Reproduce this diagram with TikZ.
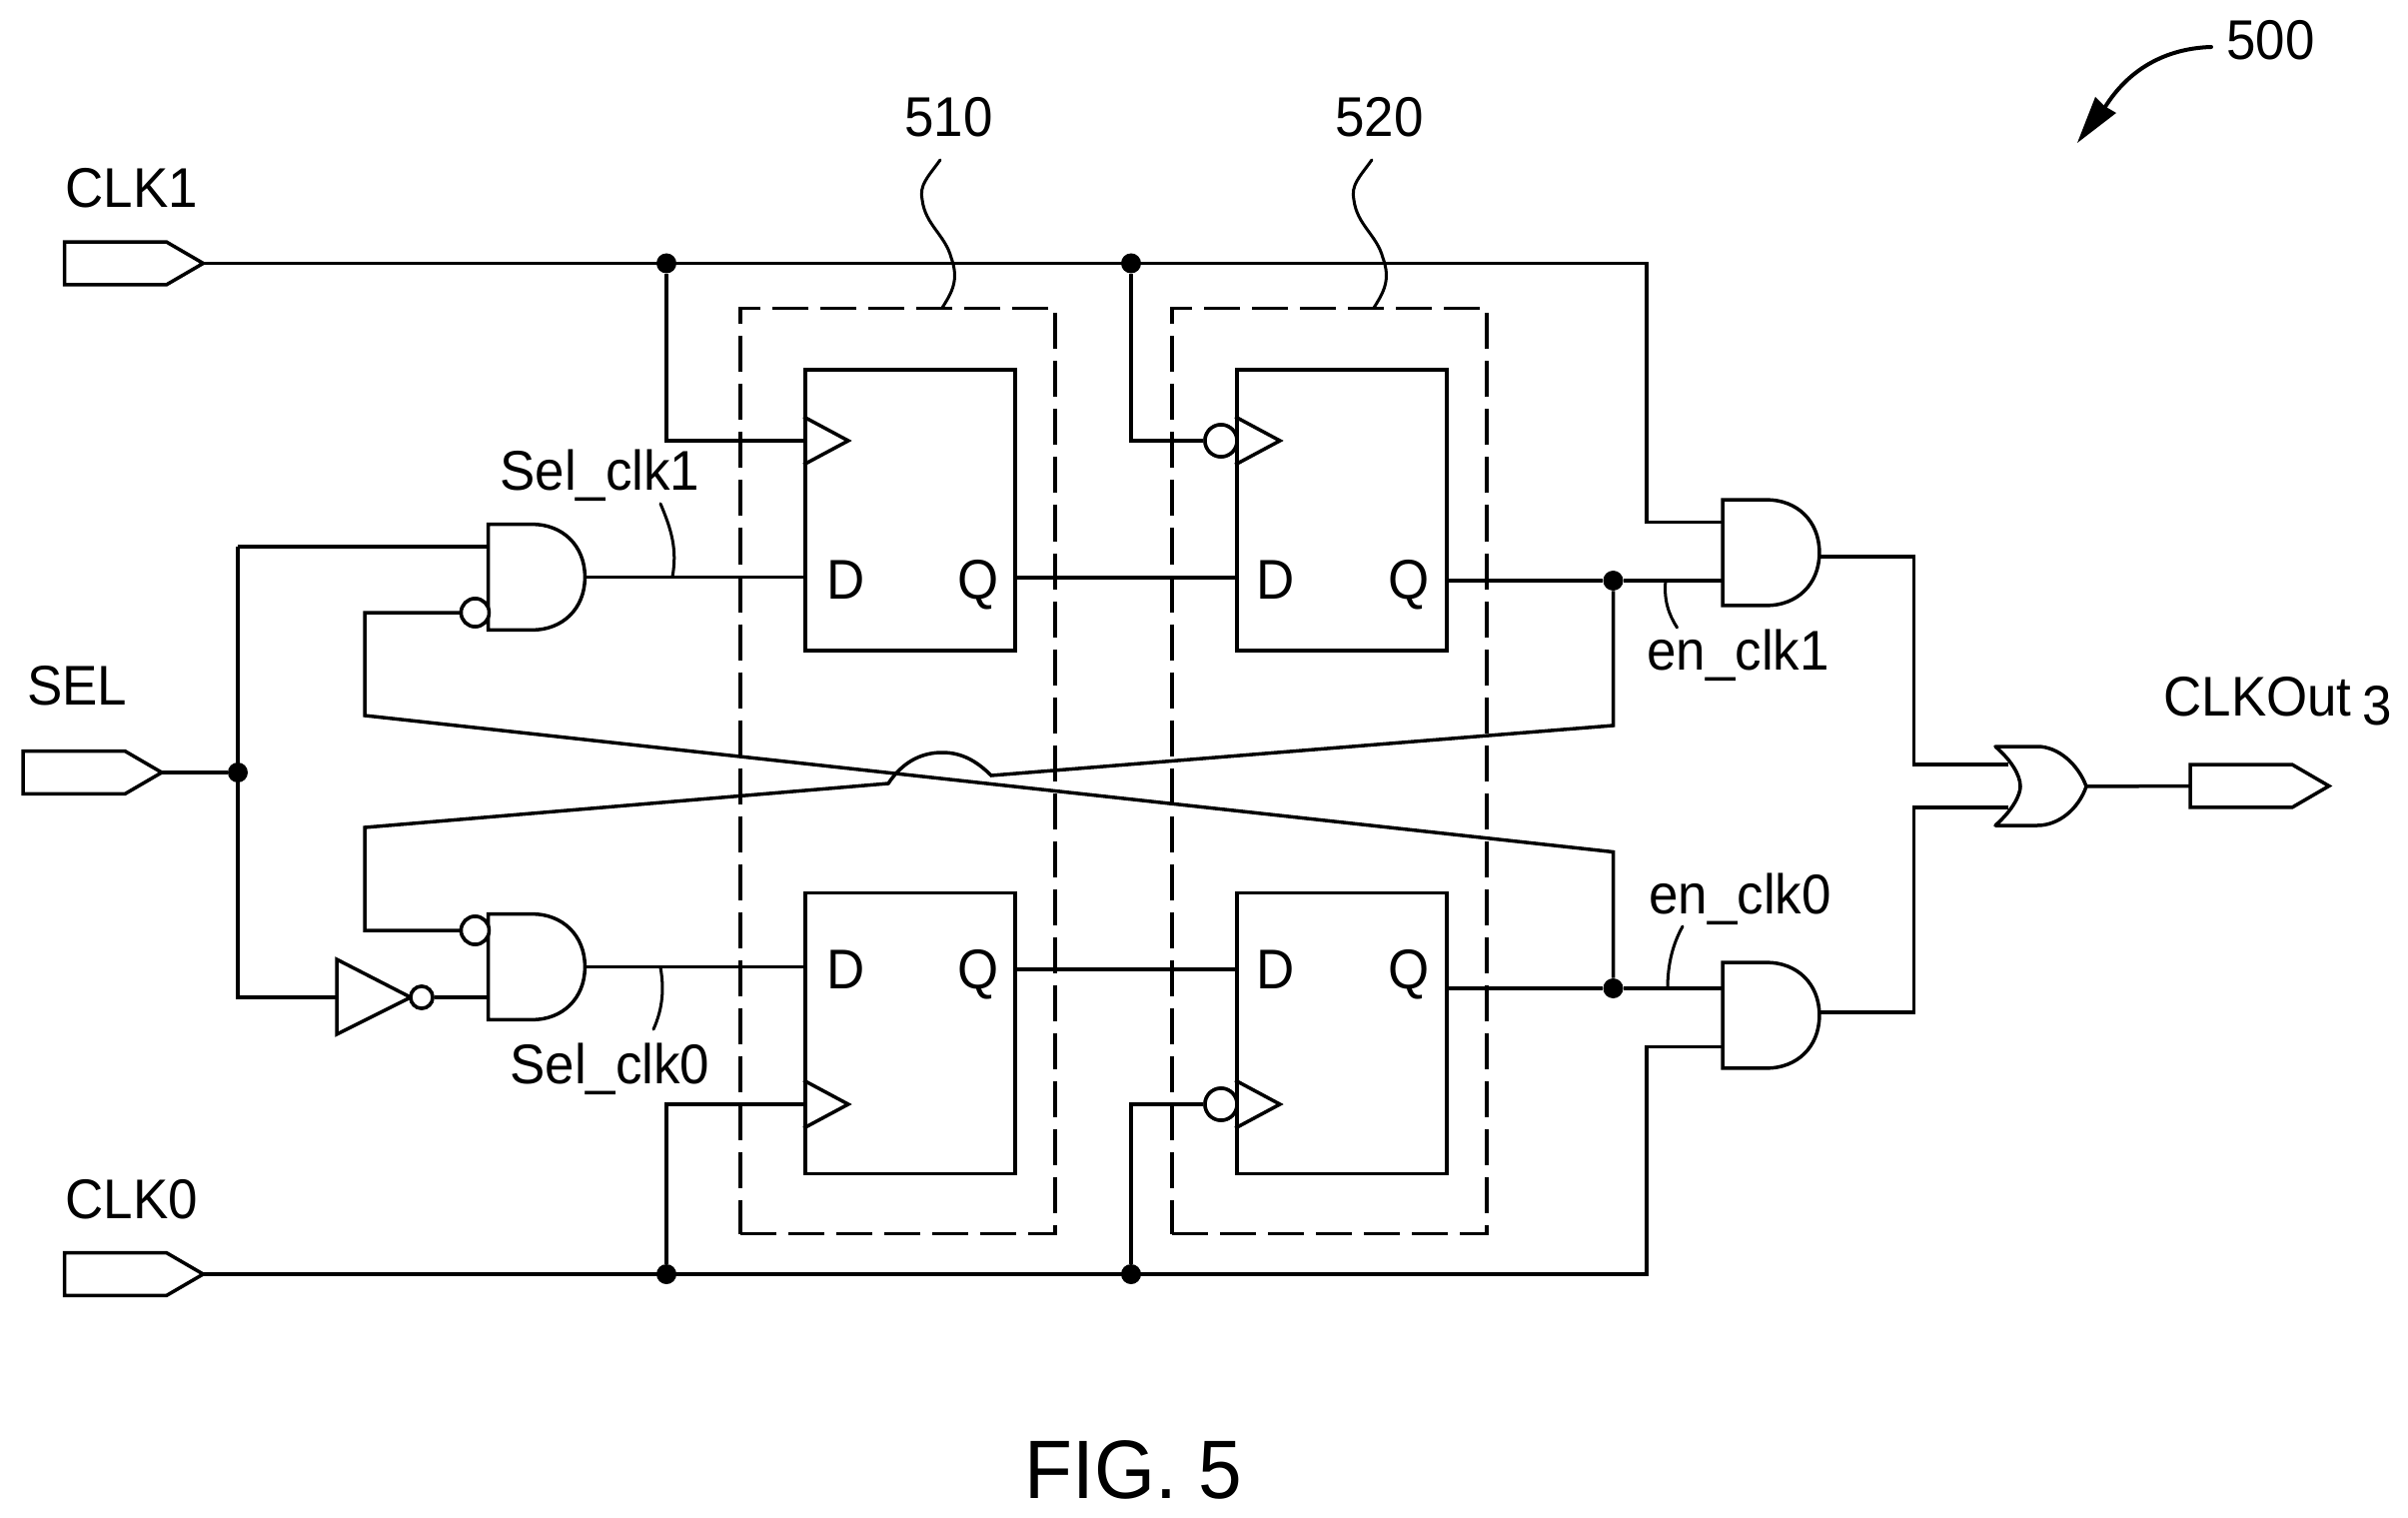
\documentclass[tikz,border=0pt]{standalone}
\usepackage{fontspec}
\setmainfont[FakeStretch=0.945]{Liberation Sans}
\usetikzlibrary{calc}
\tikzset{
  x=0.5pt,y=-0.5pt,
  wire/.style={line width=1.75pt,line cap=butt,line join=miter},
  lead/.style={line width=1.5pt,line cap=round},
  dot/.style={circle,fill=black,inner sep=0pt,minimum size=10pt},
  bub/.style={circle,draw=black,fill=white,line width=1.75pt,inner sep=0pt,minimum size=14pt},
  ff/.style={rectangle,draw=black,line width=1.75pt,inner sep=0pt,minimum width=105pt,minimum height=140.5pt},
  gbox/.style={rectangle,draw=black,line width=1.75pt,dash pattern=on 18pt off 6pt,inner sep=0pt,minimum width=157.5pt,minimum height=463pt},
  lbl/.style={anchor=base west,inner sep=0pt,font=\fontsize{28}{28}\selectfont},
  pin/.style={rectangle,inner sep=0pt,minimum width=69pt,minimum height=21pt},
  gate/.style={rectangle,inner sep=0pt,minimum width=48pt,minimum height=52.5pt},
}
% AND gate body drawn relative to its invisible node
\newcommand{\andbody}[1]{%
  \draw[wire,fill=white] (#1.north west) -- ++(44,0)
    .. controls +(30,0) and +(0,-32) .. (#1.east)
    .. controls +(0,32) and +(30,0) .. ($(#1.south west)+(44,0)$) -- (#1.south west) -- cycle;}
% pin body: pentagon pointing right
\newcommand{\pinbody}[1]{%
  \draw[wire,fill=white] (#1.north west) -- ++(102,0) -- (#1.east) -- ($(#1.south west)+(102,0)$) -- (#1.south west) -- cycle;}
\begin{document}
\begin{tikzpicture}
\useasboundingbox (0,0) rectangle (2410,1519);
% pins
\node[pin] (clk1) at (134,263.5) {};
\node[pin] (clk0) at (134,1275) {};
\node[pin] (sel) at (92.5,773) {};
\node[pin] (out) at (2261.5,786.5) {};
% flip-flops
\node[ff] (ffa) at (911,510.5) {};
\node[ff] (ffb) at (1343,510.5) {};
\node[ff] (ffc) at (911,1034) {};
\node[ff] (ffd) at (1343,1034) {};
% dashed groups
\node[gbox] (g510) at (898.5,771.5) {};
\node[gbox] (g520) at (1330.5,771.5) {};
% gates
\node[gate] (and1) at (537,577.5) {};
\node[gate] (and2) at (537,967.5) {};
\node[gate] (and3) at (1772.5,553) {};
\node[gate] (and4) at (1772.5,1016) {};
% junctions
\node[dot] (j1) at (667,263.5) {};
\node[dot] (j2) at (1132,263.5) {};
\node[dot] (j3) at (667,1275) {};
\node[dot] (j4) at (1132,1275) {};
\node[dot] (js) at (238,773) {};
\node[dot] (ja) at (1614.5,581) {};
\node[dot] (jb) at (1614.5,989) {};
% routing corners
\coordinate (ck1a) at (1132,441);
\coordinate (ck1b) at (667,441);
\coordinate (ck0a) at (667,1105);
\coordinate (ck0b) at (1132,1105);
\coordinate (fbl1) at (365,716);
\coordinate (fbl2) at (365,828);
\coordinate (xa) at (1614.5,852.5);
\coordinate (xb) at (1614.5,726);
\coordinate (bl) at (889,784);
\coordinate (br) at (992,776);
\coordinate (bt) at (943,753);
\coordinate (t1) at (1648,263.5);
\coordinate (t2) at (1648,1275);
\coordinate (s1) at (238,547);
\coordinate (s2) at (238,998);
\coordinate (orw) at (2022,787);
\coordinate (w1) at (1915.5,765);
\coordinate (w2) at (1915.5,808);
\coordinate (o3) at (1821,557);
\coordinate (o4) at (1821,1013);
% OR gate
\coordinate (ortl) at (1997,747);
\coordinate (orbl) at (1997,826);
\node[inner sep=0pt,minimum size=0pt] (orgate) at (2088,787) {};
% bubbles
\node[bub] (b1) at (475.5,613) {};
\node[bub] (b2) at (475.5,931) {};
\node[bub,minimum size=11pt] (b3) at (422,998) {};
\node[bub,minimum size=16pt] (b4) at (1222,441) {};
\node[bub,minimum size=16pt] (b5) at (1222,1105) {};
% inverter
\coordinate (invt) at (337,960);
\coordinate (invb) at (337,1035);
\coordinate (invm) at (337,998);
\coordinate (invo) at (411,998);
% ------- wires
\draw[wire] (clk1.east) -- (t1) -- (t1 |- 0,522.5) -- (and3.west |- 0,522.5);
\draw[wire] (clk0.east) -- (t2) -- (t2 |- 0,1047.5) -- (and4.west |- 0,1047.5);
\draw[wire] (j1) -- (ck1b) -- (ck1b -| ffa.west);
\draw[wire] (j2) -- (ck1a) -- (b4);
\draw[wire] (j3) -- (ck0a) -- (ck0a -| ffc.west);
\draw[wire] (j4) -- (ck0b) -- (b5);
\draw[wire] (sel.east) -- (js);
\draw[wire] (s1) -- (s2) -- (invm);
\draw[wire] (s1) -- (s1 -| and1.west);
\draw[wire] (and1.east) -- (and1.east -| ffa.west);
\draw[wire] (and2.east) -- (and2.east -| ffc.west);
\draw[wire] (ffa.east |- 0,578) -- (ffb.west |- 0,578);
\draw[wire] (ffc.east |- 0,970) -- (ffd.west |- 0,970);
\draw[wire] (ffb.east |- ja) -- (ja) -- (ja -| and3.west);
\draw[wire] (ffd.east |- jb) -- (jb) -- (jb -| and4.west);
\draw[wire] (b1) -- (fbl1 |- b1) -- (fbl1) -- (xa) -- (jb);
\draw[wire] (b2) -- (fbl2 |- b2) -- (fbl2) -- (bl)
   .. controls (905,760) and (925,753) .. (bt)
   .. controls (963,753) and (978,762) .. (br) -- (xb) -- (ja);
\draw[wire] (o3) -- (w1 |- o3) -- (w1) -- (2010,765);
\draw[wire] (o4) -- (w2 |- o4) -- (w2) -- (2010,808);
\draw[wire] (orgate) -- (out.west);
\draw[wire] (b3) -- (b3 -| and2.west);
% ------- gate bodies
\andbody{and1}\andbody{and2}\andbody{and3}\andbody{and4}
\pinbody{clk1}\pinbody{clk0}\pinbody{sel}\pinbody{out}
\draw[wire,fill=white,line join=round] (ortl) -- (2039,747) .. controls (2060,747) and (2080,765) .. (orgate.center)
  .. controls (2080,810) and (2060,826) .. (2039,826) -- (orbl)
  .. controls (2015,810) and (2022,795) .. (orw) .. controls (2022,775) and (2012,760) .. (ortl) -- cycle;
\draw[wire,fill=white] (invt) -- (invo) -- (invb) -- cycle;
% clock triangles
\draw[wire] (ffa.west |- 0,417) -- (849,441) -- (ffa.west |- 0,465);
\draw[wire] (ffb.west |- 0,417) -- (1281,441) -- (ffb.west |- 0,465);
\draw[wire] (ffc.west |- 0,1081) -- (849,1105) -- (ffc.west |- 0,1129);
\draw[wire] (ffd.west |- 0,1081) -- (1281,1105) -- (ffd.west |- 0,1129);
% redraw bubbles on top
\node[bub] at (b1) {};
\node[bub] at (b2) {};
\node[bub,minimum size=11pt] at (b3) {};
\node[bub,minimum size=16pt] at (b4) {};
\node[bub,minimum size=16pt] at (b5) {};
% ------- leaders
\coordinate (l520) at (1375,308);
\coordinate (l510) at (943,308);
\draw[lead] (1373,160) .. controls (1360,178) and (1352,185) .. (1355,200)
  .. controls (1358,225) and (1378,235) .. (1384,258) .. controls (1392,280) and (1385,292) .. (l520);
\draw[lead] (941,160) .. controls (928,178) and (920,185) .. (923,200)
  .. controls (926,225) and (946,235) .. (952,258) .. controls (960,280) and (953,292) .. (l510);
\draw[lead] (661,504) .. controls (672,530) and (678,550) .. (673,577);
\draw[lead] (661,968) .. controls (665,990) and (663,1010) .. (654,1030);
\draw[lead] (1667,581) .. controls (1665,600) and (1670,615) .. (1678.5,628);
\draw[lead] (1669,989) .. controls (1669,965) and (1674,945) .. (1684,927);
\draw[line width=2pt,line cap=round] (2213,47) .. controls (2180,48) and (2135,60) .. (2105,110);
\fill (2079,143) -- (2097,97) -- (2106,106) -- (2118,113) -- cycle;
% ------- labels
\node[lbl] (tclk1) at (65,207.5) {CLK1};
\node[lbl] (tclk0) at (65,1219) {CLK0};
\node[lbl] (tsel) at (27,705) {SEL};
\node[lbl] (tsc1) at (500,491) {Sel\_clk1};
\node[lbl] (tsc0) at (510,1084) {Sel\_clk0};
\node[lbl] (t510) at (905,137) {510};
\node[lbl] (t520) at (1336,137) {520};
\node[lbl] (t500) at (2228,60) {500};
\node[lbl] (tec1) at (1648,670) {en\_clk1};
\node[lbl] (tec0) at (1650,914) {en\_clk0};
\node[lbl] (tout) at (2165,716) {CLKOut};
\node[lbl] (tout3) at (2364,725) {3};
\node[lbl] (da) at (827,599) {D};
\node[lbl] (qa) at (958,599) {Q};
\node[lbl] (db) at (1257,599) {D};
\node[lbl] (qb) at (1389,599) {Q};
\node[lbl] (dc) at (827,989) {D};
\node[lbl] (qc) at (958,989) {Q};
\node[lbl] (dd) at (1257,989) {D};
\node[lbl] (qd) at (1389,989) {Q};
\node[lbl,font=\fontsize{41.5}{42}\selectfont] (fig) at (1025,1499) {FIG. 5};
\end{tikzpicture}
\end{document}
